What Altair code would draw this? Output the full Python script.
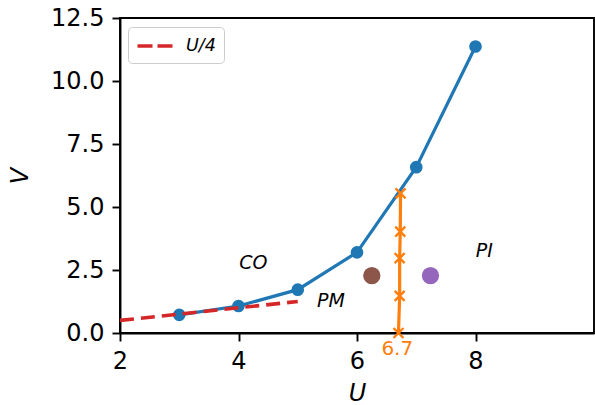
import altair as alt
import pandas as pd

# data
blue_u = [3, 4, 5, 6, 7, 8]
blue_v = [0.72, 1.07, 1.72, 3.20, 6.58, 11.37]

red_u = [2, 5]
red_v = [0.50, 1.25]

orange_u = [6.70, 6.72, 6.72, 6.73, 6.735]
orange_v = [0.0, 1.47, 2.97, 4.02, 5.54]

dot_u = [6.25, 7.24]
dot_v = [2.28, 2.28]
dot_colors = ["#8c564b", "#9467bd"]

label_text = ["CO", "PM", "PI"]
label_u = [4.25, 5.56, 8.15]
label_v = [2.78, 1.28, 3.27]

mark_text = ["6.7"]
mark_u = [6.68]
mark_v = [-0.63]

x_ticks = [2, 4, 6, 8]
y_ticks = [0, 2.5, 5, 7.5, 10, 12.5]

FONT = "DejaVu Sans"

xs = alt.Scale(domain=[2, 10], nice=False, zero=False)
ys = alt.Scale(domain=[0, 12.5], nice=False, zero=False)

xaxis = alt.Axis(values=x_ticks, title="U", format="d", labelFlush=False)
yaxis = alt.Axis(values=y_ticks, title="V", format=".1f", labelFlush=False)

blue_df = pd.DataFrame({"U": blue_u, "V": blue_v})
red_df = pd.DataFrame({"U": red_u, "V": red_v, "series": ["U/4"] * len(red_u)})
orange_df = pd.DataFrame({"U": orange_u, "V": orange_v})
dot_df = pd.DataFrame({"U": dot_u, "V": dot_v, "c": dot_colors})
lab_df = pd.DataFrame({"U": label_u, "V": label_v, "t": label_text})
mk_df = pd.DataFrame({"U": mark_u, "V": mark_v, "t": mark_text})

X = alt.X("U:Q", scale=xs, axis=xaxis)
Y = alt.Y("V:Q", scale=ys, axis=yaxis)

blue_line = alt.Chart(blue_df).mark_line(color="#1f77b4", strokeWidth=3.2).encode(x=X, y=Y)
blue_pts = alt.Chart(blue_df).mark_point(
    shape="circle", filled=True, size=160, color="#1f77b4", opacity=1
).encode(x=X, y=Y)

red_line = alt.Chart(red_df).mark_line(strokeWidth=3.6, strokeDash=[14, 7]).encode(
    x=X,
    y=Y,
    color=alt.Color(
        "series:N",
        scale=alt.Scale(domain=["U/4"], range=["#d62728"]),
        legend=alt.Legend(
            title=None,
            orient="none",
            legendX=8,
            legendY=9,
            symbolType="M-2,0L2,0",
            symbolDash=[15, 5],
            symbolStrokeWidth=3.6,
            symbolSize=306,
            symbolOffset=8,
            labelFont=FONT,
            labelFontSize=17.5,
            labelFontStyle="italic",
            labelColor="black",
            labelOffset=20,
            fillColor="white",
            strokeColor="#cccccc",
            cornerRadius=4,
            padding=8,
        ),
    ),
)

orange_line = alt.Chart(orange_df).mark_line(color="#ff7f0e", strokeWidth=3.2).encode(x=X, y=Y)
orange_pts = alt.Chart(orange_df).mark_point(
    shape="M-1,-1L1,1M-1,1L1,-1", size=100, color="#ff7f0e", strokeWidth=2.4, filled=False, opacity=1
).encode(x=X, y=Y)

dots = alt.Chart(dot_df).mark_point(shape="circle", filled=True, size=300, opacity=1).encode(
    x=X, y=Y, color=alt.Color("c:N", scale=None, legend=None)
)

labels = alt.Chart(lab_df).mark_text(
    font=FONT, fontSize=19, fontStyle="italic", align="center", baseline="middle", color="black"
).encode(x=X, y=Y, text="t:N")

mk = alt.Chart(mk_df).mark_text(
    font=FONT, fontSize=20, align="center", baseline="middle", color="#ff7f0e", clip=False
).encode(x=X, y=Y, text="t:N")

chart = (
    alt.layer(blue_line, blue_pts, red_line, orange_line, orange_pts, dots, labels, mk)
    .properties(
        width=474,
        height=315,
        autosize=alt.AutoSizeParams(type="none"),
        padding={"left": 120, "top": 18, "right": 1, "bottom": 72},
    )
    .configure_view(stroke="black", strokeWidth=1.9)
    .configure_axis(
        grid=False,
        domainColor="black",
        domainWidth=1.9,
        tickColor="black",
        tickWidth=1.9,
        tickSize=8,
        labelPadding=8,
        labelFont=FONT,
        labelFontSize=24,
        labelColor="black",
        titleFont=FONT,
        titleFontSize=24,
        titleFontStyle="italic",
        titleFontWeight="normal",
        titleColor="black",
    )
    .configure_axisX(titlePadding=8)
    .configure_axisY(titlePadding=18)
)

chart.save("out.html", embed_options={"renderer": "svg", "actions": False})
